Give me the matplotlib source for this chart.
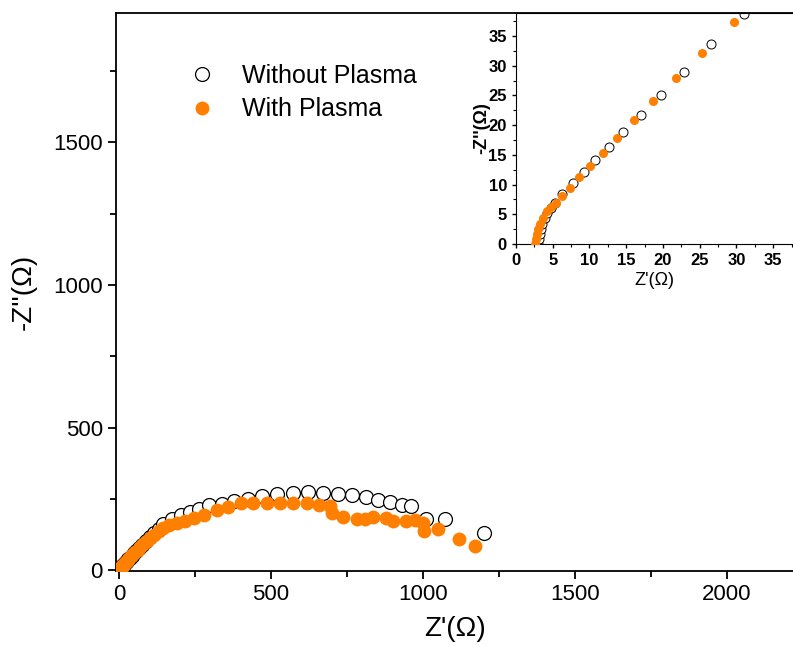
import matplotlib
matplotlib.use("Agg")
import matplotlib.pyplot as plt
from matplotlib.ticker import MultipleLocator

plt.rcParams['font.family'] = ['Liberation Sans', 'DejaVu Sans']

# Nyquist data (Z' , -Z'')
wo_x = [3.0, 3.1, 3.2, 3.4, 3.6, 3.9, 4.2, 4.7, 5.3, 6.3, 7.7, 9.2, 10.8, 12.6, 14.6,
        17.0, 19.7, 22.9, 26.6, 31.0, 36, 42, 49, 57, 66, 76, 88, 101, 115, 130,
        146, 173, 203, 234, 262, 297, 338, 379, 425, 471, 519, 571, 621, 670, 719,
        765, 811, 853, 891, 930, 962, 1010, 1073, 1202]
wo_y = [0.0, 0.8, 1.6, 2.5, 3.4, 4.4, 5.3, 6.1, 6.95, 8.5, 10.2, 12.1, 14.1, 16.3, 18.8,
        21.7, 25.1, 29.0, 33.6, 38.7, 44, 51, 59, 68, 78, 89, 101, 116, 131, 146,
        161, 179, 192, 205, 214, 228, 232, 243, 251, 260, 266, 271, 273, 269, 266,
        263, 255, 246, 240, 228, 225, 179, 181, 132]

w_x = [2.6, 2.7, 2.8, 3.0, 3.3, 3.7, 4.2, 4.8, 5.4, 6.2, 7.4, 8.6, 10.1, 11.8, 13.7,
       16.0, 18.6, 21.8, 25.3, 29.7, 34, 40, 46, 53, 61, 70, 80, 91, 103, 116,
       130, 145, 165, 190, 217, 248, 281, 321, 360, 401, 442, 486, 530, 573, 617,
       659, 694, 702, 738, 782, 809, 837, 878, 902, 944, 974, 999, 1003, 1050, 1118, 1171]
w_y = [0.0, 0.8, 1.6, 2.5, 3.4, 4.4, 5.5, 6.2, 6.85, 8.1, 9.5, 11.3, 13.2, 15.4, 17.9,
       20.8, 24.1, 27.9, 32.2, 37.3, 43, 49, 56, 64, 72, 81, 91, 102, 113, 125,
       137, 148, 158, 166, 173, 184, 193, 210, 220, 237, 234, 237, 237, 237, 234,
       228, 226, 201, 187, 181, 181, 187, 184, 173, 172, 175, 164, 138, 144, 109, 84]

orange = '#ff8000'

fig = plt.figure(figsize=(7.93, 6.46), dpi=100)
ax = fig.add_axes([0.1463, 0.116, 0.8537, 0.864])

ax.plot(wo_x, wo_y, 'o', ms=10, mfc='white', mec='black', mew=0.9,
        label='Without Plasma', zorder=2)
ax.plot(w_x, w_y, 'o', ms=10, mfc=orange, mec=orange, mew=0,
        label='With Plasma', zorder=3)

ax.set_xlim(-10, 2217)
ax.set_ylim(-3, 1954)
ax.xaxis.set_major_locator(MultipleLocator(500))
ax.xaxis.set_minor_locator(MultipleLocator(250))
ax.yaxis.set_major_locator(MultipleLocator(500))
ax.yaxis.set_minor_locator(MultipleLocator(250))
ax.tick_params(which='major', direction='out', length=6, width=1.3, labelsize=16)
ax.tick_params(which='minor', direction='out', length=4, width=1.3)
for s in ax.spines.values():
    s.set_linewidth(1.3)
ax.spines['right'].set_visible(False)

ax.set_xlabel("Z'(\u03a9)", fontsize=20, labelpad=8)
ax.set_ylabel("-Z''(\u03a9)", fontsize=20, labelpad=12)

ax.legend(loc='upper left', bbox_to_anchor=(0.075, 0.926), frameon=False,
          fontsize=18, handletextpad=0.6, labelspacing=0.37, borderaxespad=0)

# inset: high-frequency region
ins = fig.add_axes([0.6507, 0.6223, 0.3493, 0.3577])
ins.plot(wo_x, wo_y, 'o', ms=6.5, mfc='white', mec='black', mew=0.7, zorder=2)
ins.plot(w_x, w_y, 'o', ms=6.5, mfc=orange, mec=orange, mew=0, zorder=3)
ins.set_xlim(0, 37.7)
ins.set_ylim(0, 38.9)
ins.xaxis.set_major_locator(MultipleLocator(5))
ins.xaxis.set_minor_locator(MultipleLocator(2.5))
ins.yaxis.set_major_locator(MultipleLocator(5))
ins.yaxis.set_minor_locator(MultipleLocator(2.5))
ins.tick_params(which='major', direction='out', length=3, width=1, labelsize=12)
ins.tick_params(which='minor', direction='out', length=2, width=0.8)
for lab in ins.get_xticklabels() + ins.get_yticklabels():
    lab.set_fontweight('bold')
ins.spines['right'].set_visible(False)
ins.set_xlabel("Z'(\u03a9)", fontsize=13, labelpad=3)
ins.set_ylabel("-Z''(\u03a9)", fontsize=13, fontweight='bold', labelpad=-1)

fig.savefig('out.png', dpi=100)
